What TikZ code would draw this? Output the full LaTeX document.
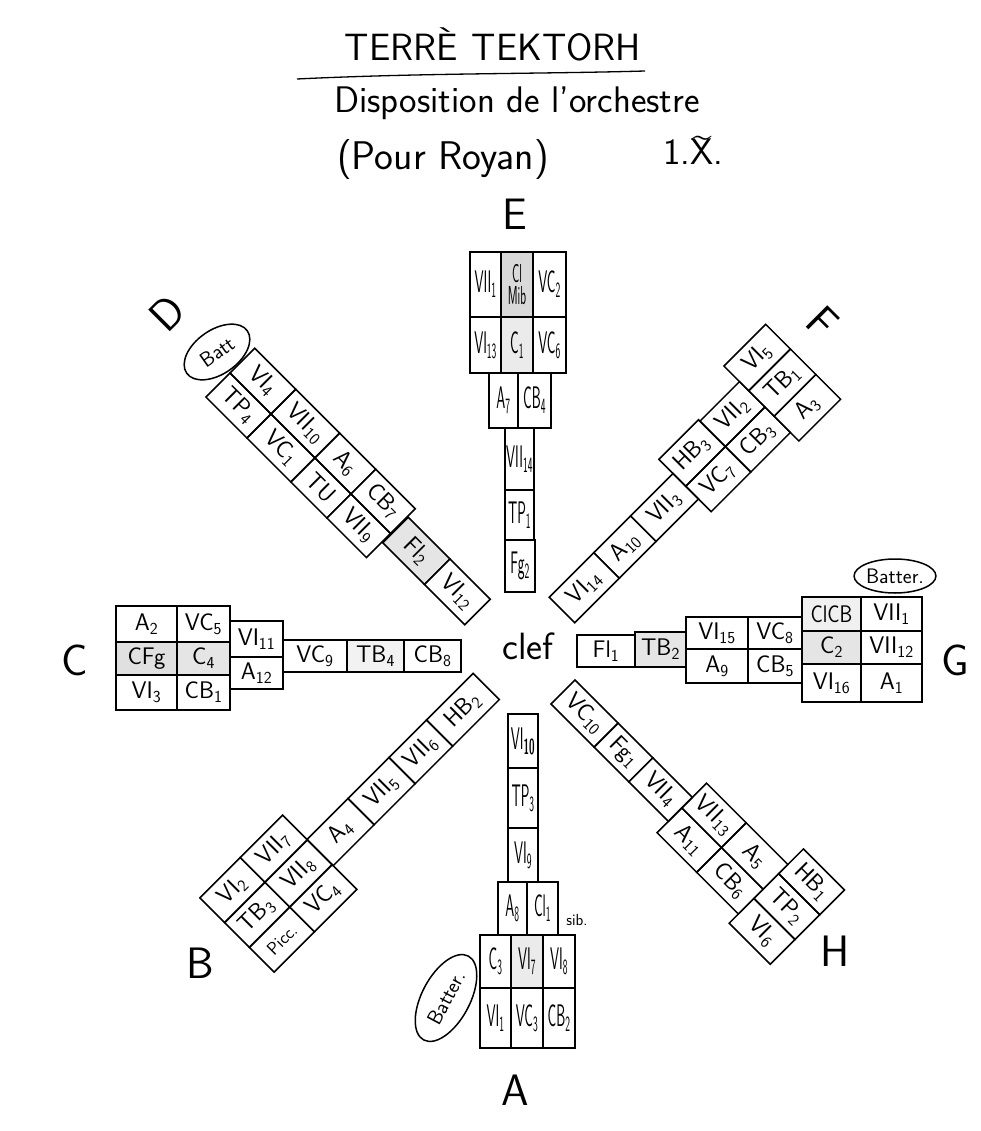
\documentclass[tikz,border=0pt]{standalone}
\usepackage{fontspec}
\usepackage{graphicx}
\usetikzlibrary{shapes.geometric}
\renewcommand\familydefault{\sfdefault}

\newcommand\subn[1]{\textsubscript{#1}}
\newcommand\tl[1]{\scalebox{.6}[1.3]{#1}}
% one desk of the plan: [opts]{name}{x1}{x2}{y1}{y2}{text}
\newcommand\cellnode[7][]{%
  \pgfmathsetmacro\cellX{((#3)+(#4))/2}%
  \pgfmathsetmacro\cellY{((#5)+(#6))/2}%
  \pgfmathsetmacro\cellW{abs((#4)-(#3))}%
  \pgfmathsetmacro\cellH{abs((#6)-(#5))}%
  \node[cell, minimum width=\cellW pt, minimum height=\cellH pt, #1] (#2) at (\cellX,\cellY) {\makebox[0pt]{#7}};%
}

\begin{document}
\begin{tikzpicture}[x=1pt, y=1pt,
  cell/.style={draw, line width=1.5pt, inner sep=0pt, outer sep=0pt, font=\fontsize{24}{26}\selectfont},
  oval/.style={draw, ellipse, line width=1.5pt, inner sep=0pt, font=\fontsize{21}{23}\selectfont},
  compass/.style={font=\fontsize{44}{46}\selectfont},
  hand/.style={font=\fontsize{37}{40}\selectfont}
]
  \useasboundingbox (0,0) rectangle (981,-1131);

  % title
  \node[font=\fontsize{38}{40}\selectfont] (title) at (493,-44) {\addfontfeature{LetterSpace=22}TERRÈ\hspace{14pt}TEKTORH};
  \draw[line width=1.3pt] (297,-79) .. controls (420,-73) and (540,-74) .. (645,-71);
  \node[hand] (disp) at (517,-103) {Disposition de l'orchestre};
  \node[font=\fontsize{40}{42}\selectfont] (royan) at (443,-160) {(Pour Royan)};
  \node[hand] (date) at (693,-150) {1.X\rlap{\hspace{-0.6em}\raisebox{0.45em}{\textasciitilde}}.};

  \node[font=\fontsize{38}{40}\selectfont] (clef) at (528,-646) {clef};

  % E
  \cellnode{eA}{470}{501}{-252}{-317}{\tl{VII\subn{1}}}
  \cellnode[fill=black!15]{eB}{501}{533}{-252}{-317}{\tl{\fontsize{20}{20}\selectfont\shortstack{Cl\\Mib}}}
  \cellnode{eC}{533}{566}{-252}{-317}{\tl{VC\subn{2}}}
  \cellnode{eD}{470}{501}{-317}{-373}{\tl{VI\subn{13}}}
  \cellnode[fill=black!8]{eE}{501}{533}{-317}{-373}{\tl{C\subn{1}}}
  \cellnode{eF}{533}{566}{-317}{-373}{\tl{VC\subn{6}}}
  \cellnode{eG}{489}{518}{-373}{-428}{\tl{A\subn{7}}}
  \cellnode{eH}{518}{551}{-373}{-428}{\tl{CB\subn{4}}}
  \cellnode{eI}{505}{534}{-428}{-490}{\tl{VII\subn{14}}}
  \cellnode{eJ}{505}{534}{-490}{-540}{\tl{TP\subn{1}}}
  \cellnode{eK}{505}{535}{-540}{-592}{\tl{Fg\subn{2}}}

  % A
  \cellnode{a1}{508}{538}{-714}{-768}{\tl{VI\subn{\bfseries 10}}}
  \cellnode{a2}{508}{538}{-768}{-828}{\tl{TP\subn{3}}}
  \cellnode{a3}{508}{538}{-828}{-882}{\tl{VI\subn{9}}}
  \cellnode{a4}{498}{527}{-882}{-935}{\tl{A\subn{8}}}
  \cellnode{a5}{527}{558}{-882}{-935}{\tl{Cl\subn{1}}}
  \node[font=\fontsize{16}{18}\selectfont] (sib) at (577,-920) {sib.};
  \cellnode{a6}{480}{511}{-935}{-988}{\tl{C\subn{3}}}
  \cellnode[fill=black!8]{a7}{511}{543}{-935}{-988}{\tl{VI\subn{7}}}
  \cellnode{a8}{543}{575}{-935}{-988}{\tl{VI\subn{8}}}
  \cellnode{a9}{480}{511}{-988}{-1048}{\tl{VI\subn{1}}}
  \cellnode{a10}{511}{543}{-988}{-1048}{\tl{VC\subn{3}}}
  \cellnode{a11}{543}{575}{-988}{-1048}{\tl{CB\subn{2}}}

  % C
  \cellnode{c1}{116}{177}{-606}{-642}{A\subn{2}}
  \cellnode{c2}{177}{230}{-606}{-642}{VC\subn{5}}
  \cellnode[fill=black!12]{c3}{116}{177}{-642}{-675}{CFg}
  \cellnode[fill=black!10]{c4}{177}{230}{-642}{-675}{C\subn{4}}
  \cellnode{c5}{116}{177}{-675}{-710}{VI\subn{3}}
  \cellnode{c6}{177}{230}{-675}{-710}{CB\subn{1}}
  \cellnode{c7}{230}{283}{-621}{-657}{VI\subn{11}}
  \cellnode{c8}{230}{283}{-657}{-689}{A\subn{12}}
  \cellnode{c9}{283}{347}{-640}{-672}{VC\subn{9}}
  \cellnode[fill=black!5]{c10}{347}{404}{-640}{-672}{TB\subn{4}}
  \cellnode{c11}{404}{461}{-640}{-672}{CB\subn{8}}

  % G
  \cellnode{g1}{577}{635}{-635}{-667}{Fl\subn{1}}
  \cellnode[fill=black!10]{g2}{635}{686}{-632}{-667}{TB\subn{2}}
  \cellnode{g3}{686}{748}{-617}{-649}{VI\subn{15}}
  \cellnode{g4}{748}{802}{-617}{-649}{VC\subn{8}}
  \cellnode{g5}{686}{748}{-649}{-683}{A\subn{9}}
  \cellnode{g6}{748}{802}{-649}{-683}{CB\subn{5}}
  \cellnode[fill=black!6]{g7}{802}{861}{-597}{-631}{\scalebox{.85}[1]{ClCB}}
  \cellnode{g8}{861}{922}{-597}{-631}{VII\subn{1}}
  \cellnode[fill=black!10]{g9}{802}{861}{-631}{-664}{C\subn{2}}
  \cellnode{g10}{861}{922}{-631}{-664}{VII\subn{12}}
  \cellnode{g11}{802}{861}{-664}{-702}{VI\subn{16}}
  \cellnode{g12}{861}{922}{-664}{-702}{A\subn{1}}

  % D
  \begin{scope}[shift={(230,-373)}, rotate=-45, transform shape]
    \cellnode{d1}{0}{58}{0}{35}{VI\subn{4}}
    \cellnode{d2}{58}{120}{0}{35}{VII\subn{10}}
    \cellnode{d3}{120}{171}{0}{35}{A\subn{6}}
    \cellnode{d4}{171}{227}{0}{35}{CB\subn{7}}
    \cellnode{d5}{0}{58}{-34}{0}{TP\subn{4}}
    \cellnode{d6}{58}{120}{-34}{0}{VC\subn{1}}
    \cellnode{d7}{120}{171}{-34}{0}{TU}
    \cellnode{d8}{171}{227}{-34}{0}{VII\subn{9}}
    \cellnode[fill=black!10]{d9}{228}{287}{-12}{24}{Fl\subn{2}}
    \cellnode{d10}{287}{344}{-12}{24}{VI\subn{12}}
  \end{scope}

  % F
  \begin{scope}[shift={(562,-610)}, rotate=45, transform shape]
    \cellnode{f1}{0}{63}{-18}{18}{VI\subn{14}}
    \cellnode{f2}{63}{115}{-18}{18}{A\subn{10}}
    \cellnode{f3}{115}{175}{-18}{18}{VII\subn{3}}
    \cellnode{f4}{175}{231}{0}{38}{HB\subn{3}}
    \cellnode{f5}{175}{231}{-36}{0}{VC\subn{7}}
    \cellnode{f6}{231}{287}{0}{36}{VII\subn{2}}
    \cellnode{f7}{231}{287}{-36}{0}{CB\subn{3}}
    \cellnode{f8}{287}{346}{23}{58}{VI\subn{5}}
    \cellnode{f9}{287}{346}{-13}{23}{TB\subn{1}}
    \cellnode{f10}{287}{346}{-48}{-13}{A\subn{3}}
  \end{scope}

  % B
  \begin{scope}[shift={(237,-935)}, rotate=45, transform shape]
    \cellnode{b1}{0}{57}{17.5}{52.5}{VI\subn{2}}
    \cellnode{b2}{0}{57}{-17.5}{17.5}{TB\subn{3}}
    \cellnode{b3}{0}{57}{-52.5}{-17.5}{\fontsize{18}{20}\selectfont Picc.}
    \cellnode{b4}{57}{117}{17.5}{52.5}{VII\subn{7}}
    \cellnode{b5}{57}{117}{-17.5}{17.5}{VII\subn{8}}
    \cellnode{b6}{57}{117}{-52.5}{-17.5}{VC\subn{4}}
    \cellnode{b7}{117}{175}{-19}{18}{A\subn{4}}
    \cellnode{b8}{175}{233}{-19}{18}{VII\subn{5}}
    \cellnode{b9}{233}{286}{-19}{18}{VII\subn{6}}
    \cellnode{b10}{286}{352}{-19}{18}{HB\subn{2}}
  \end{scope}

  % H
  \begin{scope}[shift={(563,-692)}, rotate=-45, transform shape]
    \cellnode{h1}{0}{61}{-17}{17}{VC\subn{10}}
    \cellnode{h2}{61}{110}{-17}{17}{Fg\subn{1}}
    \cellnode{h3}{110}{166}{-17}{17}{VII\subn{4}}
    \cellnode{h4}{166}{222}{2}{37}{VII\subn{13}}
    \cellnode{h5}{166}{222}{-33}{2}{A\subn{11}}
    \cellnode{h6}{222}{281}{2}{37}{A\subn{5}}
    \cellnode{h7}{222}{281}{-33}{2}{CB\subn{6}}
    \cellnode{h8}{281}{339}{24}{59}{HB\subn{1}}
    \cellnode{h9}{281}{339}{-11}{24}{TP\subn{2}}
    \cellnode{h10}{281}{339}{-46}{-11}{VI\subn{6}}
  \end{scope}

  % percussion
  \node[oval, rotate=35, minimum width=74pt, minimum height=44pt] (battD) at (217,-352) {Batt};
  \node[oval, minimum width=76pt, minimum height=34pt] (battG) at (895,-576) {Batter.};
  \node[oval, rotate=62, minimum width=95pt, minimum height=48pt] (battA) at (446,-998) {Batter.};

  % groups
  \node[compass] (lE) at (515,-214) {E};
  \node[compass, rotate=45] (lD) at (167,-313) {D};
  \node[compass, rotate=-45] (lF) at (823,-322) {F};
  \node[compass] (lC) at (75,-660) {C};
  \node[compass] (lG) at (955,-660) {G};
  \node[compass] (lB) at (200,-963) {B};
  \node[compass] (lH) at (835,-951) {H};
  \node[compass] (lA) at (515,-1090) {A};
\end{tikzpicture}
\end{document}
